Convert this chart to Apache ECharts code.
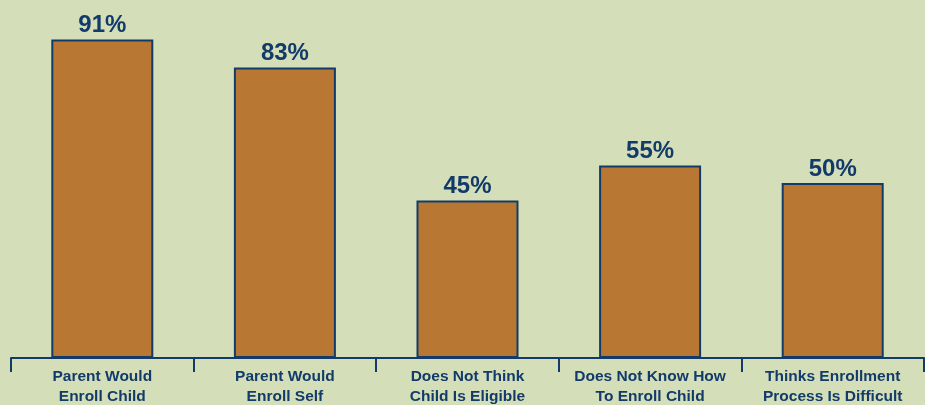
<!DOCTYPE html>
<html><head><meta charset="utf-8">
<script src="https://cdn.jsdelivr.net/npm/echarts@6/dist/echarts.min.js"></script>
<style>html,body{margin:0;padding:0;background:#d4dfb9;}#c{width:925px;height:405px;}</style>
</head><body><div id="c"></div>
<script>
const categories = ["Parent Would\nEnroll Child", "Parent Would\nEnroll Self", "Does Not Think\nChild Is Eligible", "Does Not Know How\nTo Enroll Child", "Thinks Enrollment\nProcess Is Difficult"];
const values = [91, 83, 45, 55, 50];
const navy = "#123b69";
const chart = echarts.init(document.getElementById('c'));
chart.setOption({
  backgroundColor: "#d4dfb9",
  animation: false,
  grid: {left: 11, top: 8, width: 913, height: 350, containLabel: false, outerBoundsMode: 'none'},
  xAxis: {
    type: 'category', data: categories,
    axisLine: {lineStyle: {color: navy, width: 2}},
    axisTick: {show: true, length: 14, lineStyle: {color: navy, width: 2}},
    axisLabel: {color: navy, fontFamily: "Liberation Sans", fontWeight: 'bold', fontSize: 15.5, lineHeight: 20, margin: 9, interval: 0}
  },
  yAxis: {type: 'value', min: 0, max: 100, show: false, splitLine: {show: false}},
  series: [{
    type: 'bar', data: values, barWidth: 102,
    itemStyle: {color: "#b87834", borderColor: navy, borderWidth: 2},
    label: {show: true, position: 'top', distance: 2, formatter: '{c}%', color: navy, fontFamily: "Liberation Sans", fontWeight: 'bold', fontSize: 24}
  }]
});
</script></body></html>
